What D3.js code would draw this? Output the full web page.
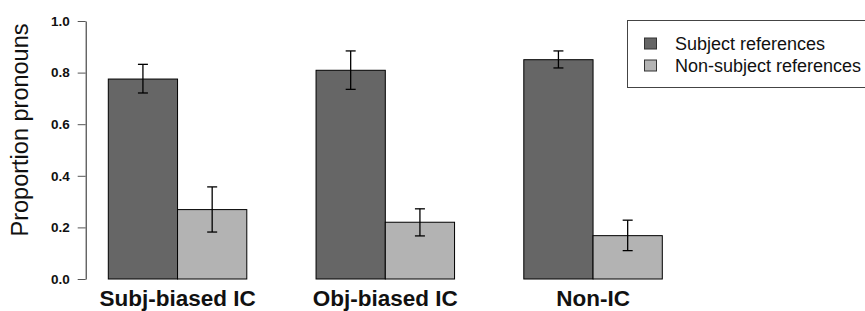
<!DOCTYPE html>
<html lang="en">
	<head>
		<meta charset="utf-8">
		<title>Proportion pronouns</title>
		<script src="https://d3js.org/d3.v7.min.js"></script>
		<style>
			body{
				margin: 0;
				background: #fff;
			}
			text{
				font-family: 'Liberation Sans', Arial, sans-serif;
			}
		</style>
	</head>
	<body>
		<script>
			//Width and height
			var w = 865;
			var h = 311;

			//data
			var categories = ["Subj-biased IC", "Obj-biased IC", "Non-IC"];
			var series = ["Subject references", "Non-subject references"];
			var subjMean = [0.775, 0.809, 0.850];
			var subjLow  = [0.721, 0.735, 0.818];
			var subjHigh = [0.832, 0.884, 0.884];
			var nonMean  = [0.269, 0.220, 0.168];
			var nonLow   = [0.182, 0.167, 0.110];
			var nonHigh  = [0.357, 0.272, 0.228];
			var yTicks = [0, 0.2, 0.4, 0.6, 0.8, 1.0];
			var colors = ["#666666", "#b3b3b3"];

			//rows for the bars
			var bars = [];
			categories.forEach(function(c, i) {
				bars.push({cat: c, s: series[0], v: subjMean[i], lo: subjLow[i], hi: subjHigh[i]});
				bars.push({cat: c, s: series[1], v: nonMean[i], lo: nonLow[i], hi: nonHigh[i]});
			});

			//scales
			var x0 = d3.scaleBand()
				.domain(categories)
				.range([108.3, 662.3])
				.paddingInner(1/3)
				.paddingOuter(0);

			var x1 = d3.scaleBand()
				.domain(series)
				.range([0, x0.bandwidth()]);

			var color = d3.scaleOrdinal()
				.domain(series)
				.range(colors);

			var yScale = d3.scaleLinear()
				.domain([0, 1])
				.range([279, 21]);

			var svg = d3.select("body")
				.append("svg")
				.attr("width", w)
				.attr("height", h);

			//bars
			svg.selectAll("rect.bar")
				.data(bars)
				.enter()
				.append("rect")
				.attr("class", "bar")
				.attr("x", function(d) { return x0(d.cat) + x1(d.s); })
				.attr("y", function(d) { return yScale(d.v); })
				.attr("width", x1.bandwidth())
				.attr("height", function(d) { return yScale(0) - yScale(d.v); })
				.attr("fill", function(d) { return color(d.s); })
				.attr("stroke", "#000")
				.attr("stroke-width", 1);

			//error bars
			var err = svg.selectAll("g.err")
				.data(bars)
				.enter()
				.append("g")
				.attr("class", "err")
				.attr("stroke", "#000")
				.attr("stroke-width", 1.3);

			err.append("line")
				.attr("x1", function(d) { return x0(d.cat) + x1(d.s) + x1.bandwidth() / 2; })
				.attr("x2", function(d) { return x0(d.cat) + x1(d.s) + x1.bandwidth() / 2; })
				.attr("y1", function(d) { return yScale(d.lo); })
				.attr("y2", function(d) { return yScale(d.hi); });

			["lo", "hi"].forEach(function(k) {
				err.append("line")
					.attr("x1", function(d) { return x0(d.cat) + x1(d.s) + x1.bandwidth() / 2 - 5; })
					.attr("x2", function(d) { return x0(d.cat) + x1(d.s) + x1.bandwidth() / 2 + 5; })
					.attr("y1", function(d) { return yScale(d[k]); })
					.attr("y2", function(d) { return yScale(d[k]); });
			});

			//y axis
			var yAxis = d3.axisLeft(yScale)
				.tickValues(yTicks)
				.tickFormat(d3.format(".1f"))
				.tickSizeInner(8)
				.tickSizeOuter(0)
				.tickPadding(8);

			var gy = svg.append("g")
				.attr("transform", "translate(85.7,0)")
				.call(yAxis);
			gy.select(".domain").attr("stroke", "#222");
			gy.selectAll(".tick line").attr("stroke", "#555");
			gy.selectAll(".tick text")
				.attr("font-size", "13.5px")
				.attr("font-weight", "bold")
				.attr("fill", "#111")
				.style("font-family", "'Liberation Sans', Arial, sans-serif");

			svg.append("text")
				.attr("transform", "translate(28,130) rotate(-90)")
				.attr("text-anchor", "middle")
				.attr("font-size", "23.5px")
				.attr("fill", "#111")
				.text("Proportion pronouns");

			//category labels
			svg.selectAll("text.cat")
				.data(categories)
				.enter()
				.append("text")
				.attr("class", "cat")
				.attr("x", function(d) { return x0(d) + x0.bandwidth() / 2; })
				.attr("y", 306)
				.attr("text-anchor", "middle")
				.attr("font-size", "22.5px")
				.attr("font-weight", "bold")
				.attr("fill", "#111")
				.text(function(d) { return d; });

			//legend
			svg.append("rect")
				.attr("x", 627.5)
				.attr("y", 20.5)
				.attr("width", 260)
				.attr("height", 67)
				.attr("fill", "#fff")
				.attr("stroke", "#444")
				.attr("stroke-width", 1);

			var leg = svg.selectAll("g.leg")
				.data(series)
				.enter()
				.append("g")
				.attr("class", "leg")
				.attr("transform", function(d, i) { return "translate(0," + (43.5 + i * 22) + ")"; });

			leg.append("rect")
				.attr("x", 644.5)
				.attr("y", -5.5)
				.attr("width", 12)
				.attr("height", 11)
				.attr("fill", function(d) { return color(d); })
				.attr("stroke", "#333");

			leg.append("text")
				.attr("x", 675)
				.attr("y", 6.5)
				.attr("font-size", "18px")
				.attr("fill", "#111")
				.text(function(d) { return d; });
		</script>
	</body>
</html>
